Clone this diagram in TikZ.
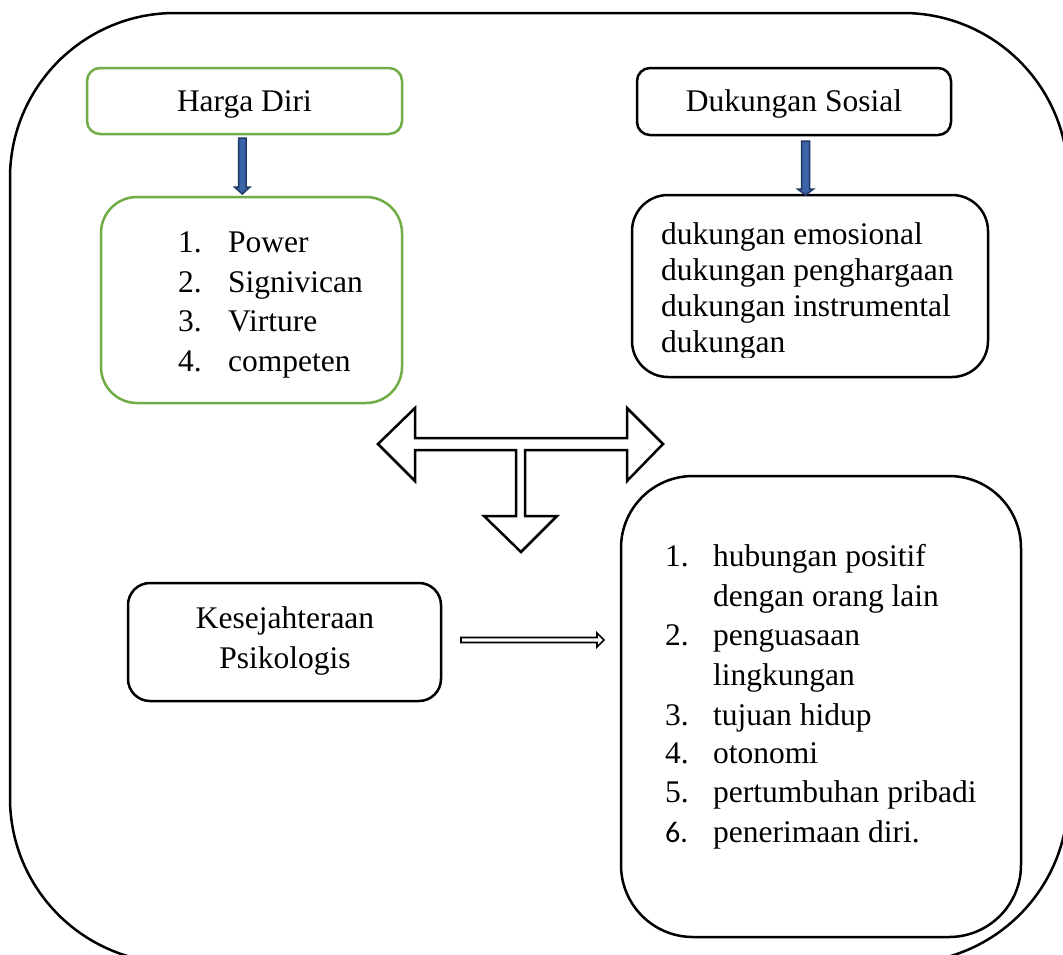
\documentclass[tikz,border=0pt]{standalone}
\usepackage{fontspec}
\setmainfont{Liberation Serif}
\newfontfamily\calfont{Carlito}
\definecolor{grn}{HTML}{70AD47}
\definecolor{bfill}{HTML}{3A63A8}
\definecolor{bdraw}{HTML}{1F3864}
\tikzset{
  txt/.style={inner sep=0pt, font=\fontsize{31.5}{36}\selectfont},
  gbox/.style={draw=grn, line width=2.5pt, rounded corners=#1},
  kbox/.style={draw=black, line width=2.5pt, rounded corners=#1},
  bluearrow/.style={fill=bfill, draw=bdraw, line width=1.5pt, line join=miter},
  blockarrow/.style={fill=white, draw=black, line width=2.5pt, line join=miter},
  thinarrow/.style={fill=white, draw=black, line width=1.6pt, line join=miter}
}
\begin{document}
\begin{tikzpicture}[x=1pt,y=-1pt]
\clip (0,0) rectangle (1063,954);
\fill[white] (0,0) rectangle (1063,954);
% outer frame
\draw[line width=2.5pt, rounded corners=165pt] (10,13) rectangle (1068,963);

% Harga Diri
\draw[gbox=13pt] (87,68) rectangle (402,134);
\coordinate (hdS) at (242,134);
\node[txt, anchor=base] (hd) at (244.5,111) {Harga Diri};
% green list box
\draw[gbox=36pt] (101,197) rectangle (402,403);
\coordinate (glN) at (242,197);
\node[txt, anchor=base west] (g1n) at (178,252) {1.};
\node[txt, anchor=base west] (g1) at (228,252) {Power};
\node[txt, anchor=base west] (g2n) at (178,292) {2.};
\node[txt, anchor=base west] (g2) at (228,292) {Signivican};
\node[txt, anchor=base west] (g3n) at (178,331) {3.};
\node[txt, anchor=base west] (g3) at (228,331) {Virture};
\node[txt, anchor=base west] (g4n) at (178,371) {4.};
\node[txt, anchor=base west] (g4) at (228,371) {competen};
% blue arrow left
\draw[bluearrow] (238.5,138) -- (246,138) -- (246,187) -- (250,187) -- (242.3,194) -- (234.5,187) -- (238.5,187) -- cycle;

% Dukungan Sosial
\draw[kbox=13pt] (637,68) rectangle (951,135);
\node[txt, anchor=base] (ds) at (794,111) {Dukungan Sosial};
\draw[kbox=36pt] (632,195) rectangle (988,377);
\draw[bluearrow] (801.5,141) -- (809.5,141) -- (809.5,189) -- (813.5,189) -- (805.5,195) -- (797.5,189) -- (801.5,189) -- cycle;
\begin{scope}
\clip (600,150) rectangle (1000,357.5);
\node[txt, anchor=base west] (d1) at (661,244) {dukungan emosional};
\node[txt, anchor=base west] (d2) at (661,280) {dukungan penghargaan};
\node[txt, anchor=base west] (d3) at (661,316) {dukungan instrumental};
\node[txt, anchor=base west] (d4) at (661,352) {dukungan};
\end{scope}

% T-shaped block arrow
\draw[blockarrow] (378,444) -- (415,408) -- (415,438) -- (627,438) -- (627,408)
  -- (663,444) -- (627,481) -- (627,450) -- (525,450) -- (525,516) -- (557,516)
  -- (521,552) -- (484,516) -- (516,516) -- (516,450) -- (415,450) -- (415,481) -- cycle;

% Kesejahteraan Psikologis
\draw[kbox=22pt] (128,583) rectangle (441,701);
\node[txt, anchor=base] (kp1) at (285,628) {Kesejahteraan};
\node[txt, anchor=base] (kp2) at (285,668) {Psikologis};

% thin double-line arrow
\draw[thinarrow] (461,637.5) -- (597,637.5) -- (597,633) -- (604,640) -- (597,647) -- (597,642.5) -- (461,642.5) -- cycle;

% big list box
\draw[kbox=72pt] (621,476) rectangle (1021,937);
\node[txt, anchor=base west] (l1n) at (665,566) {1.};
\node[txt, anchor=base west] (l1) at (713,566) {hubungan positif};
\node[txt, anchor=base west] (l1b) at (713,606) {dengan orang lain};
\node[txt, anchor=base west] (l2n) at (665,645) {2.};
\node[txt, anchor=base west] (l2) at (713,645) {penguasaan};
\node[txt, anchor=base west] (l2b) at (713,685) {lingkungan};
\node[txt, anchor=base west] (l3n) at (665,725) {3.};
\node[txt, anchor=base west] (l3) at (713,725) {tujuan hidup};
\node[txt, anchor=base west] (l4n) at (665,763) {4.};
\node[txt, anchor=base west] (l4) at (713,763) {otonomi};
\node[txt, anchor=base west] (l5n) at (665,802) {5.};
\node[txt, anchor=base west] (l5) at (713,802) {pertumbuhan pribadi};
\node[txt, anchor=base west, font=\calfont\fontsize{30}{36}\selectfont] (l6n) at (665,842) {6.};
\node[txt, anchor=base west] (l6) at (713,842) {penerimaan diri.};
\end{tikzpicture}
\end{document}
